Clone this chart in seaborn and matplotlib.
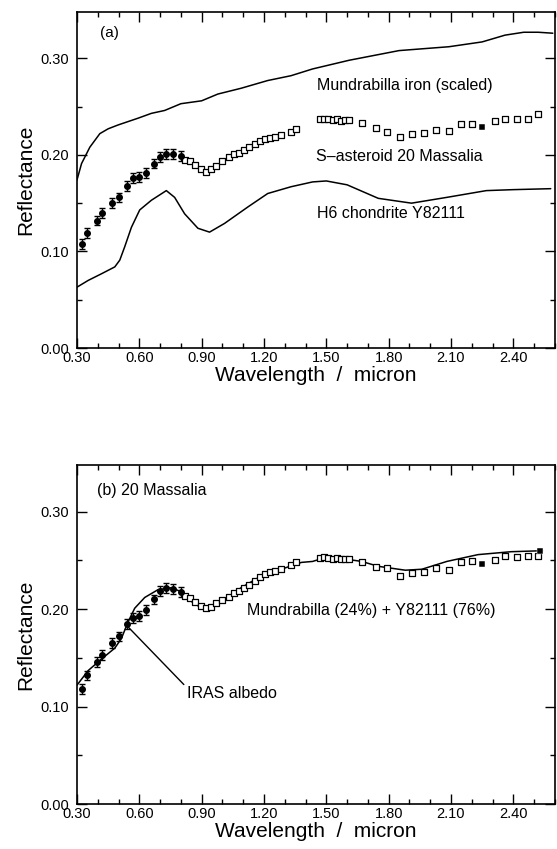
import matplotlib
matplotlib.use("Agg")
import matplotlib.pyplot as plt
import seaborn as sns
from matplotlib.ticker import MultipleLocator, FormatStrFormatter

# ---- panel (a) data ----
mund_wl = [0.30, 0.322, 0.362, 0.41, 0.45, 0.498, 0.594, 0.658, 0.722, 0.80, 0.90, 0.978, 1.09,
           1.218, 1.33, 1.434, 1.61, 1.85, 2.09, 2.25, 2.36, 2.45, 2.52, 2.59]
mund_r = [0.174, 0.191, 0.208, 0.222, 0.227, 0.231, 0.238, 0.243, 0.246, 0.253, 0.256, 0.263, 0.269,
          0.277, 0.282, 0.289, 0.298, 0.308, 0.312, 0.317, 0.324, 0.327, 0.327, 0.326]

h6_wl = [0.30, 0.354, 0.419, 0.482, 0.506, 0.53, 0.562, 0.602, 0.658, 0.73, 0.77, 0.818, 0.882, 0.938,
         1.01, 1.122, 1.218, 1.33, 1.434, 1.50, 1.60, 1.75, 1.91, 2.08, 2.27, 2.40, 2.58]
h6_r = [0.063, 0.070, 0.077, 0.084, 0.091, 0.105, 0.125, 0.143, 0.153, 0.163, 0.156, 0.139, 0.124, 0.120,
        0.129, 0.146, 0.160, 0.167, 0.172, 0.173, 0.169, 0.155, 0.150, 0.156, 0.163, 0.164, 0.165]

ecas_wl = [0.323, 0.35, 0.395, 0.42, 0.467, 0.50, 0.54, 0.57, 0.60, 0.63, 0.67, 0.70, 0.73, 0.76, 0.80]
ecas_a = [0.108, 0.119, 0.132, 0.140, 0.150, 0.156, 0.168, 0.176, 0.177, 0.181, 0.191, 0.198, 0.201, 0.201, 0.199]

sq_wl = [0.82, 0.845, 0.87, 0.895, 0.92, 0.945, 0.97, 1.00, 1.03, 1.055, 1.08, 1.105, 1.13, 1.155, 1.18,
         1.205, 1.23, 1.255, 1.28, 1.33, 1.355,
         1.47, 1.49, 1.51, 1.53, 1.55, 1.57, 1.59, 1.61,
         1.67, 1.74, 1.79, 1.855, 1.91, 1.97, 2.03, 2.09, 2.15, 2.20, 2.31, 2.36, 2.42, 2.47, 2.52]
sq_a = [0.195, 0.194, 0.190, 0.185, 0.182, 0.185, 0.189, 0.194, 0.198, 0.201, 0.202, 0.205, 0.208, 0.211, 0.214,
        0.216, 0.218, 0.219, 0.221, 0.224, 0.227,
        0.237, 0.237, 0.237, 0.236, 0.237, 0.235, 0.236, 0.236,
        0.233, 0.228, 0.224, 0.219, 0.222, 0.223, 0.226, 0.225, 0.232, 0.232, 0.235, 0.237, 0.237, 0.237, 0.242]
filled_wl_a = [2.25]
filled_a = [0.229]

# ---- panel (b) data ----
mix_wl = [0.30, 0.354, 0.419, 0.482, 0.514, 0.546, 0.578, 0.626, 0.69, 0.755, 0.80, 0.85, 0.90, 0.947,
          1.01, 1.09, 1.186, 1.283, 1.38, 1.434, 1.51, 1.67, 1.75, 1.88, 1.96, 2.08, 2.23, 2.39, 2.54]
mix_r = [0.122, 0.137, 0.149, 0.160, 0.170, 0.187, 0.201, 0.212, 0.220, 0.222, 0.218, 0.208, 0.201, 0.201,
         0.210, 0.222, 0.234, 0.241, 0.248, 0.249, 0.254, 0.249, 0.244, 0.240, 0.241, 0.249, 0.256, 0.259, 0.260]

ecas_b = [0.118, 0.132, 0.146, 0.153, 0.165, 0.172, 0.185, 0.191, 0.193, 0.199, 0.210, 0.219, 0.222, 0.221, 0.218]

sq_b = [0.214, 0.211, 0.207, 0.203, 0.201, 0.202, 0.206, 0.209, 0.213, 0.217, 0.219, 0.222, 0.225, 0.229, 0.233,
        0.236, 0.238, 0.239, 0.241, 0.245, 0.248,
        0.253, 0.254, 0.253, 0.252, 0.253, 0.251, 0.252, 0.252,
        0.248, 0.243, 0.242, 0.234, 0.237, 0.238, 0.242, 0.240, 0.248, 0.249, 0.250, 0.255, 0.254, 0.255, 0.255]
filled_wl_b = [2.25, 2.53]
filled_b = [0.246, 0.260]

ECAS_ERR = 0.005

sns.set_style("ticks")
plt.rcParams["font.family"] = ["Liberation Sans", "DejaVu Sans"]
plt.rcParams.update({"text.color": "black", "axes.labelcolor": "black",
                     "xtick.color": "black", "ytick.color": "black"})

fig = plt.figure(figsize=(5.57, 8.49), dpi=100)
ax_a = fig.add_axes([0.1382, 0.5901, 0.858, 0.3958])
ax_b = fig.add_axes([0.1382, 0.0530, 0.858, 0.3993])


def style_axes(ax):
    ax.set_xlim(0.3, 2.6)
    ax.set_ylim(0.0, 0.348)
    ax.xaxis.set_major_locator(MultipleLocator(0.3))
    ax.xaxis.set_minor_locator(MultipleLocator(0.1))
    ax.yaxis.set_major_locator(MultipleLocator(0.1))
    ax.yaxis.set_minor_locator(MultipleLocator(0.05))
    ax.xaxis.set_major_formatter(FormatStrFormatter("%.2f"))
    ax.yaxis.set_major_formatter(FormatStrFormatter("%.2f"))
    ax.tick_params(which="both", direction="in", top=True, right=True, colors="black", width=1)
    ax.tick_params(which="major", length=7, labelsize=10.5)
    ax.tick_params(which="minor", length=3.5)
    ax.tick_params(axis="x", pad=2)
    ax.tick_params(axis="y", pad=6)
    for s in ax.spines.values():
        s.set_linewidth(1.2)
        s.set_color("black")
    ax.set_xlabel("Wavelength  /  micron", fontsize=15, labelpad=1)
    ax.set_ylabel("Reflectance", fontsize=15, labelpad=3)


def draw_asteroid(ax, ecas, sq, fwl, fval):
    ax.errorbar(ecas_wl, ecas, yerr=ECAS_ERR, fmt="o", color="black", ms=4,
                capsize=2, elinewidth=1, capthick=1, zorder=4)
    sns.scatterplot(x=sq_wl, y=sq, marker="s", s=14, facecolor="white",
                    edgecolor="black", linewidth=0.9, ax=ax, zorder=4)
    sns.scatterplot(x=fwl, y=fval, marker="s", s=16, color="black", ax=ax, zorder=4)


# (a)
sns.lineplot(x=mund_wl, y=mund_r, sort=False, estimator=None, color="black", lw=1.1, ax=ax_a)
sns.lineplot(x=h6_wl, y=h6_r, sort=False, estimator=None, color="black", lw=1.1, ax=ax_a)
draw_asteroid(ax_a, ecas_a, sq_a, filled_wl_a, filled_a)
style_axes(ax_a)
ax_a.text(0.41, 0.326, "(a)", fontsize=11, va="center")
ax_a.text(1.457, 0.272, "Mundrabilla iron (scaled)", fontsize=11.5, va="center")
ax_a.text(1.45, 0.198, "S\u2013asteroid 20 Massalia", fontsize=11.5, va="center")
ax_a.text(1.457, 0.139, "H6 chondrite Y82111", fontsize=11.5, va="center")

# (b)
sns.lineplot(x=mix_wl, y=mix_r, sort=False, estimator=None, color="black", lw=1.1, ax=ax_b)
draw_asteroid(ax_b, ecas_b, sq_b, filled_wl_b, filled_b)
style_axes(ax_b)
ax_b.text(0.396, 0.322, "(b) 20 Massalia", fontsize=11.5, va="center")
ax_b.text(1.12, 0.199, "Mundrabilla (24%) + Y82111 (76%)", fontsize=11.5, va="center")
ax_b.annotate("IRAS albedo", xy=(0.545, 0.182), xytext=(0.83, 0.113), fontsize=11.5,
              va="center", ha="left",
              arrowprops=dict(arrowstyle="-", color="black", lw=1, shrinkA=0, shrinkB=0,
                              relpos=(0.0, 0.9)))

fig.savefig("out.png", dpi=100)
